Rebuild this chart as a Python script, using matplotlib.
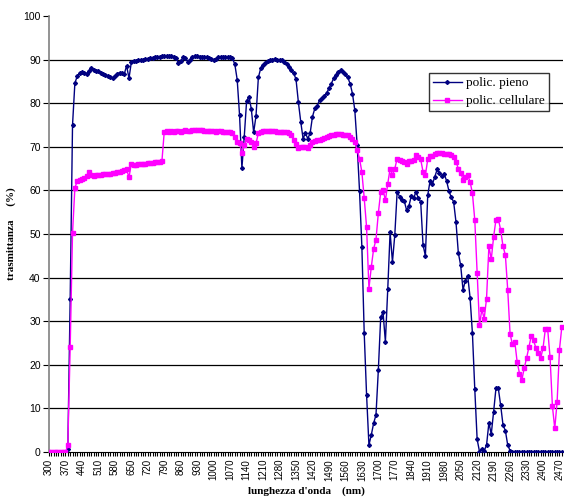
import matplotlib
matplotlib.use("Agg")
import matplotlib.pyplot as plt
from matplotlib.ticker import MultipleLocator, FixedLocator

wavelength = list(range(300, 2490, 10))
tick_labels = list(range(300, 2471, 70))

pieno = [0, 0, 0, 0, 0, 0, 0, 0, 0.7, 35,
         75, 84.6, 86.2, 86.9, 87.2, 87.0, 86.8, 87.4, 88.0, 87.6,
         87.4, 87.3, 87.0, 86.8, 86.5, 86.2, 86.0, 85.8, 86.3, 86.7,
         87.0, 87.0, 86.7, 88.6, 85.7, 89.4, 89.6, 89.7, 89.8, 89.9,
         90.0, 90.1, 90.2, 90.3, 90.4, 90.5, 90.6, 90.7, 90.8, 90.9,
         90.9, 90.8, 90.8, 90.7, 90.3, 89.3, 89.7, 90.5, 90.3, 89.5,
         90.0, 90.6, 90.8, 90.8, 90.7, 90.7, 90.6, 90.5, 90.4, 90.2,
         89.9, 90.2, 90.5, 90.6, 90.6, 90.6, 90.6, 90.5, 90.3, 88.9,
         85.4, 77.3, 65.1, 72.3, 80.5, 81.5, 78.7, 73.3, 77.1, 85.9,
         88.0, 88.8, 89.3, 89.6, 89.9, 90.0, 90.1, 90.0, 89.9, 89.8,
         89.5, 89.0, 88.4, 87.6, 86.9, 85.5, 80.3, 75.8, 71.9, 73.1,
         71.9, 73.1, 76.9, 78.8, 79.4, 80.7, 81.1, 81.7, 82.3, 83.4,
         84.5, 85.7, 86.5, 87.2, 87.6, 87.2, 86.7, 85.9, 84.5, 82.2,
         78.4, 70.4, 59.9, 47.1, 27.2, 13.1, 1.6, 3.9, 6.6, 8.5,
         18.8, 30.9, 32.0, 25.3, 37.3, 50.4, 43.6, 49.8, 59.7, 58.6,
         57.8, 57.6, 55.5, 56.4, 58.7, 58.2, 59.7, 58.2, 57.4, 47.5,
         45.0, 58.9, 62.2, 61.5, 63.1, 64.8, 64.1, 63.3, 63.8, 62.2,
         59.9, 58.4, 57.4, 52.8, 45.7, 42.8, 37.2, 39.3, 40.4, 35.4,
         27.2, 14.4, 2.9, 0.1, 0.6, 0.3, 1.6, 6.7, 4.1, 9.2,
         14.6, 14.6, 10.7, 6.2, 4.9, 1.6, 0.3, 0, 0, 0,
         0, 0, 0, 0, 0, 0, 0, 0, 0, 0,
         0, 0, 0, 0, 0, 0, 0, 0, 0]

cellulare = [0, 0, 0, 0, 0, 0, 0, 0, 1.5, 24,
             50.2, 60.6, 62.1, 62.4, 62.6, 62.9, 63.2, 64.2, 63.6, 63.4,
             63.5, 63.6, 63.6, 63.7, 63.7, 63.7, 63.8, 63.9, 64.0, 64.2,
             64.3, 64.5, 64.6, 64.8, 63.0, 66.1, 65.9, 65.9, 66.0, 66.0,
             66.1, 66.1, 66.2, 66.3, 66.3, 66.4, 66.5, 66.6, 66.7, 73.5,
             73.6, 73.5, 73.6, 73.5, 73.7, 73.6, 73.5, 73.6, 73.8, 73.7,
             73.6, 73.8, 73.9, 73.9, 73.8, 73.8, 73.7, 73.7, 73.6, 73.6,
             73.6, 73.5, 73.6, 73.6, 73.5, 73.5, 73.5, 73.4, 73.2, 72.3,
             71.2, 70.8, 68.5, 70.3, 71.7, 71.6, 71.2, 70.0, 70.8, 73.1,
             73.5, 73.6, 73.6, 73.7, 73.7, 73.6, 73.6, 73.5, 73.5, 73.4,
             73.4, 73.3, 73.1, 72.7, 71.6, 70.6, 69.8, 70.0, 70.0, 69.9,
             69.8, 70.5, 71.0, 71.3, 71.5, 71.6, 71.8, 72.0, 72.2, 72.4,
             72.6, 72.8, 73.0, 73.0, 72.9, 72.8, 72.7, 72.6, 72.2, 71.9,
             71.1, 69.3, 67.3, 64.2, 58.2, 51.6, 37.5, 42.4, 46.6, 48.7,
             54.8, 59.6, 60.2, 57.7, 61.5, 65.0, 63.5, 65.0, 67.3, 67.0,
             66.7, 66.4, 66.1, 66.7, 66.8, 67.0, 68.1, 67.6, 67.1, 64.3,
             63.5, 67.1, 67.9, 67.9, 68.3, 68.6, 68.6, 68.5, 68.3, 68.3,
             68.3, 68.1, 67.7, 66.6, 65.0, 64.1, 62.5, 63.1, 63.5, 62.0,
             59.3, 53.2, 41.1, 29.1, 32.7, 30.6, 35.2, 47.2, 44.2, 49.3,
             53.3, 53.5, 50.9, 47.2, 45.2, 37.2, 27.1, 24.7, 25.3, 20.7,
             18.0, 16.5, 19.2, 21.5, 24.1, 26.6, 25.6, 23.8, 22.7, 21.5,
             23.8, 28.2, 28.1, 21.7, 10.5, 5.4, 11.5, 23.5, 28.7]

series_names = ["polic. pieno", "polic. cellulare"]

fig = plt.figure(figsize=(5.64, 4.98), dpi=100)
ax = fig.add_axes([49/564, 46/498, 514/564, 436/498])

ax.plot(wavelength, pieno, color="#000080", lw=1.0, marker="D", ms=2.0,
        mfc="#000080", mec="#000080", label=series_names[0], zorder=3)
ax.plot(wavelength, cellulare, color="#FF00FF", lw=1.0, marker="s", ms=2.7,
        mfc="#FF00FF", mec="#FF00FF", label=series_names[1], zorder=3)

ax.set_xlim(300, 2485)
ax.set_ylim(0, 100)

for v in range(10, 100, 10):
    ax.axhline(v, color="#000000", lw=0.9, zorder=1)

for s in ["top", "right"]:
    ax.spines[s].set_visible(False)
ax.spines["left"].set_color("#808080")
ax.spines["bottom"].set_color("#000000")
ax.spines["left"].set_linewidth(1.2)

ax.yaxis.set_major_locator(MultipleLocator(10))
ax.xaxis.set_major_locator(FixedLocator(tick_labels))
ax.xaxis.set_minor_locator(FixedLocator(wavelength))
ax.set_xticklabels([str(t) for t in tick_labels], rotation=90,
                   fontsize=7, family="Liberation Sans")
for lab in ax.get_yticklabels():
    lab.set_fontsize(7.5)
    lab.set_family("Liberation Sans")
ax.tick_params(axis="x", which="both", length=3, width=0.8, direction="out", pad=2)
ax.tick_params(axis="y", length=4, width=0.8, direction="out", pad=2)

ax.set_ylabel("trasmittanza     (%)", family="Liberation Serif",
              fontweight="bold", fontsize=8, labelpad=5)
ax.set_xlabel("lunghezza d'onda    (nm)", family="Liberation Serif",
              fontweight="bold", fontsize=8, labelpad=4)

leg = ax.legend(loc="upper left", bbox_to_anchor=(429/564, 1 - 73/498),
                bbox_transform=fig.transFigure, frameon=True, fancybox=False,
                edgecolor="black", prop={"family": "Liberation Serif", "size": 9.5},
                handlelength=2.2, handletextpad=0.3, borderpad=0.3,
                labelspacing=0.45, borderaxespad=0)
leg.get_frame().set_linewidth(1.0)

fig.savefig("out.png", dpi=100)
